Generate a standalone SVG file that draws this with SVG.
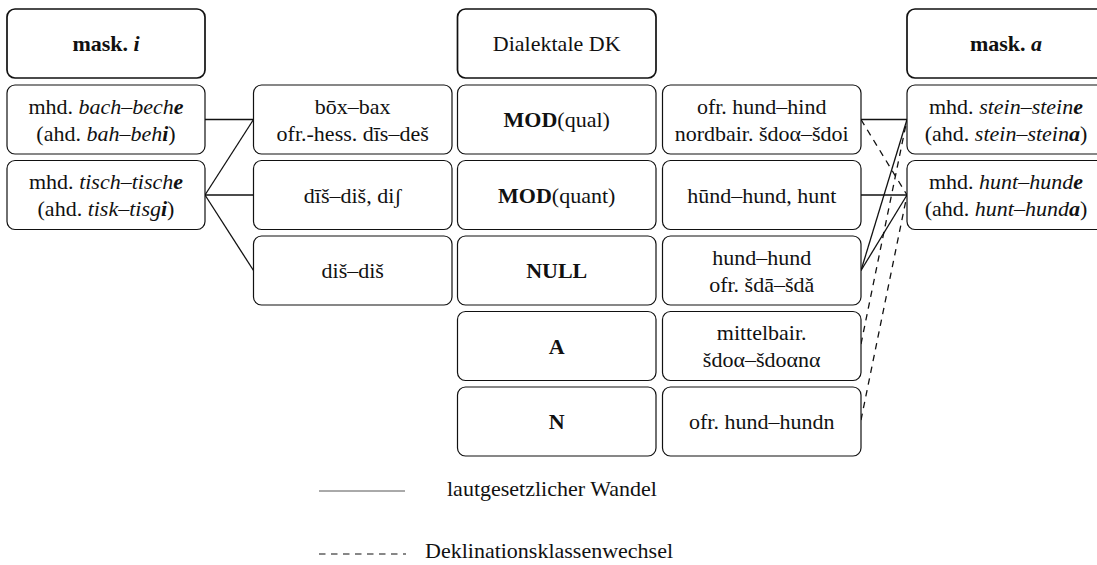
<svg xmlns="http://www.w3.org/2000/svg" width="1097" height="565" viewBox="0 0 1097 565">
<style>
text{font-family:"Liberation Serif","Times New Roman",serif;font-size:22px;fill:#111;text-anchor:middle}
.b{font-weight:bold}
.i{font-style:italic}
.bi{font-weight:bold;font-style:italic}
.box{fill:#fff;stroke:#111;stroke-width:1.2}
.hdr{fill:#fff;stroke:#111;stroke-width:1.7}
.s{stroke:#111;stroke-width:1.3;fill:none}
.d{stroke:#111;stroke-width:1.3;fill:none;stroke-dasharray:6.5 5.5}
.lg{text-anchor:start}
</style>
<rect width="1097" height="565" fill="#fff"/>
<g id="connectors">
<line class="s" x1="205" y1="119.5" x2="253.5" y2="119.5"/>
<line class="s" x1="205" y1="195" x2="253.5" y2="119.5"/>
<line class="s" x1="205" y1="195" x2="253.5" y2="195"/>
<line class="s" x1="205" y1="195" x2="253.5" y2="270.5"/>
<line class="s" x1="861" y1="119.5" x2="907" y2="119.5"/>
<line class="s" x1="861" y1="195" x2="907" y2="195"/>
<line class="s" x1="861" y1="270.5" x2="907" y2="119.5"/>
<line class="s" x1="861" y1="270.5" x2="907" y2="195"/>
<line class="d" x1="861" y1="119.5" x2="907" y2="195"/>
<line class="d" x1="861" y1="344" x2="907" y2="119.5"/>
<line class="d" x1="861" y1="420" x2="907" y2="195"/>
</g>
<g id="h1"><rect class="hdr" x="7" y="9" width="198" height="69" rx="8"/><text x="106" y="51"><tspan class="b">mask. </tspan><tspan class="bi">i</tspan></text></g>
<g id="h3"><rect class="hdr" x="457.5" y="9" width="198.5" height="69" rx="8"/><text x="556.7" y="51">Dialektale DK</text></g>
<g id="h5"><rect class="hdr" x="907" y="9" width="198" height="69" rx="8"/><text x="1006" y="51"><tspan class="b">mask. </tspan><tspan class="bi">a</tspan></text></g>

<g id="l1"><rect class="box" x="7" y="85" width="198" height="69" rx="8"/><text x="106" y="113.5">mhd. <tspan class="i">bach–bech</tspan><tspan class="bi">e</tspan></text><text x="106" y="140.5">(ahd. <tspan class="i">bah–beh</tspan><tspan class="bi">i</tspan>)</text></g>
<g id="l2"><rect class="box" x="7" y="160.5" width="198" height="69" rx="8"/><text x="106" y="189">mhd. <tspan class="i">tisch–tisch</tspan><tspan class="bi">e</tspan></text><text x="106" y="216">(ahd. <tspan class="i">tisk–tisg</tspan><tspan class="bi">i</tspan>)</text></g>

<g id="c2a"><rect class="box" x="253.5" y="85" width="198.5" height="69" rx="8"/><text x="352.7" y="113.5">bōx–bax</text><text x="352.7" y="140.5">ofr.-hess. dīs–deš</text></g>
<g id="c2b"><rect class="box" x="253.5" y="160.5" width="198.5" height="69" rx="8"/><text x="352.7" y="202.5">dīš–diš, diʃ</text></g>
<g id="c2c"><rect class="box" x="253.5" y="236" width="198.5" height="69" rx="8"/><text x="352.7" y="278">diš–diš</text></g>

<g id="m1"><rect class="box" x="457.5" y="85" width="198.5" height="69" rx="8"/><text x="556.7" y="127"><tspan class="b">MOD</tspan>(qual)</text></g>
<g id="m2"><rect class="box" x="457.5" y="160.5" width="198.5" height="69" rx="8"/><text x="556.7" y="202.5"><tspan class="b">MOD</tspan>(quant)</text></g>
<g id="m3"><rect class="box" x="457.5" y="236" width="198.5" height="69" rx="8"/><text x="556.7" y="278" class="b">NULL</text></g>
<g id="m4"><rect class="box" x="457.5" y="311.5" width="198.5" height="69" rx="8"/><text x="556.7" y="353.5" class="b">A</text></g>
<g id="m5"><rect class="box" x="457.5" y="387" width="198.5" height="69" rx="8"/><text x="556.7" y="429" class="b">N</text></g>

<g id="e1"><rect class="box" x="662.5" y="85" width="198.5" height="69" rx="8"/><text x="761.7" y="113.5">ofr. hund–hind</text><text x="761.7" y="140.5">nordbair. šdoα–šdoi</text></g>
<g id="e2"><rect class="box" x="662.5" y="160.5" width="198.5" height="69" rx="8"/><text x="761.7" y="202.5">hūnd–hund, hunt</text></g>
<g id="e3"><rect class="box" x="662.5" y="236" width="198.5" height="69" rx="8"/><text x="761.7" y="264.5">hund–hund</text><text x="761.7" y="291.5">ofr. šdā–šdǎ</text></g>
<g id="e4"><rect class="box" x="662.5" y="311.5" width="198.5" height="69" rx="8"/><text x="761.7" y="340">mittelbair.</text><text x="761.7" y="367">šdoα–šdoαnα</text></g>
<g id="e5"><rect class="box" x="662.5" y="387" width="198.5" height="69" rx="8"/><text x="761.7" y="429">ofr. hund–hundn</text></g>

<g id="r1"><rect class="box" x="907" y="85" width="198" height="69" rx="8"/><text x="1006" y="113.5">mhd. <tspan class="i">stein–stein</tspan><tspan class="bi">e</tspan></text><text x="1006" y="140.5">(ahd. <tspan class="i">stein–stein</tspan><tspan class="bi">a</tspan>)</text></g>
<g id="r2"><rect class="box" x="907" y="160.5" width="198" height="69" rx="8"/><text x="1006" y="189">mhd. <tspan class="i">hunt–hund</tspan><tspan class="bi">e</tspan></text><text x="1006" y="216">(ahd. <tspan class="i">hunt–hund</tspan><tspan class="bi">a</tspan>)</text></g>

<g id="legend">
<line x1="319" y1="491" x2="405" y2="491" stroke="#555" stroke-width="1"/>
<text class="lg" x="447" y="496">lautgesetzlicher Wandel</text>
<line x1="319" y1="554" x2="406" y2="554" stroke="#111" stroke-width="1.2" stroke-dasharray="6.5 5.5"/>
<text class="lg" x="425" y="558">Deklinationsklassenwechsel</text>
</g>
</svg>
